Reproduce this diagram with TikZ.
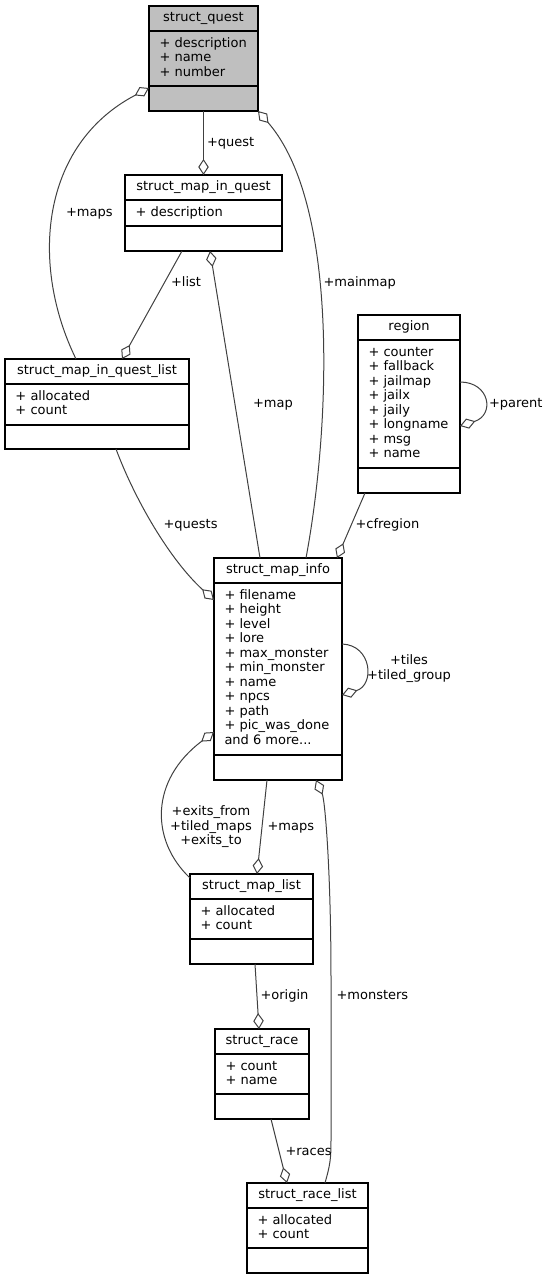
\documentclass[tikz,border=0pt]{standalone}
\usepackage{fontspec}
\setmainfont{DejaVu Sans}
\usetikzlibrary{arrows.meta}
\definecolor{edgecol}{HTML}{404040}
\definecolor{questfill}{HTML}{BFBFBF}
\tikzset{
 classbox/.style={draw=black, line width=1.1pt, inner sep=0pt, outer sep=0pt},
 classfill/.style={fill=white},
 boxline/.style={draw=black, line width=1.1pt},
 lbl/.style={inner sep=0pt, outer sep=0pt, font=\fontsize{13}{14.5}\selectfont, text=black},
 edge/.style={draw=edgecol, line width=1pt, -{Diamond[open, length=16pt, width=10.5pt]}},
}
% #1 name, #2 x1, #3 y1, #4 x2, #5 sep1, #6 sep2, #7 y2, #8 title, #9 attrs
\newcommand\umlbox[9]{%
 \node[classbox, classfill, minimum width={#4-#2}, minimum height={#7-#3}, anchor=north west] (#1) at (#2,#3) {};
 \draw[boxline] (#2,#5) -- (#4,#5);
 \draw[boxline] (#2,#6) -- (#4,#6);
 \node[lbl, anchor=base] (#1-t) at ({(#2+#4)/2},{#3+15.8}) {#8};
 \foreach \a [count=\i from 0] in {#9} {\node[lbl, anchor=base west] (#1-a\i) at ({#2+10.5},{#5+16+14.5*\i}) {\a};}
}
\begin{document}
\begin{tikzpicture}[x=1pt, y=-1pt]
\useasboundingbox (0,0) rectangle (547,1280);

\begin{scope}[classfill/.style={fill=questfill}]
\umlbox{quest}{149}{6}{258}{31}{86}{111}{struct\_quest}{+ description,+ name,+ number}
\end{scope}
\umlbox{miq}{125}{175}{282}{200}{226}{251}{struct\_map\_in\_quest}{+ description}
\umlbox{miql}{5}{359}{189}{384}{425}{449}{struct\_map\_in\_quest\_list}{+ allocated,+ count}
\umlbox{region}{358}{315}{460}{340}{468}{493}{region}{+ counter,+ fallback,+ jailmap,+ jailx,+ jaily,+ longname,+ msg,+ name}
\umlbox{info}{214}{558}{342}{583}{755}{780}{struct\_map\_info}{+ filename,+ height,+ level,+ lore,+ max\_monster,+ min\_monster,+ name,+ npcs,+ path,+ pic\_was\_done,and 6 more.{}.{}.}
\umlbox{mlist}{190}{874}{313}{899}{939}{964}{struct\_map\_list}{+ allocated,+ count}
\umlbox{race}{215}{1029}{309}{1054}{1094}{1119}{struct\_race}{+ count,+ name}
\umlbox{rlist}{247}{1183}{368}{1208}{1248}{1273}{struct\_race\_list}{+ allocated,+ count}

% edges
\draw[edge] (quest.south) -- (miq.north);
\draw[edge] ([xshift=71pt]miql.north west) .. controls (30,265) and (40,145) .. ([yshift=-82pt]quest.north west);
\draw[edge] ([xshift=57pt]miq.south west) -- ([xshift=117pt]miql.north west);
\draw[edge] ([xshift=92pt]info.north west) .. controls (330,430) and (340,205) .. (quest.south east);
\draw[edge] ([xshift=46pt]info.north west) -- ([xshift=85pt]miq.south west);
\draw[edge] ([xshift=111pt]miql.south west) .. controls (135,500) and (170,560) .. ([yshift=-42pt]info.north west);
\draw[edge] ([xshift=7pt]region.south west) -- ([xshift=123pt]info.north west);
\draw[edge] ([yshift=-67pt]region.north east) .. controls (490,382) and (495,415) .. ([yshift=-111pt]region.north east);
\draw[edge] ([yshift=-86pt]info.north east) .. controls (372,645) and (375,685) .. ([yshift=-137pt]info.north east);
\draw[edge] ([yshift=-4pt]mlist.north west) .. controls (150,840) and (150,780) .. ([yshift=-174pt]info.north west);
\draw[edge] ([xshift=53pt]info.south west) -- ([xshift=67pt]mlist.north west);
\draw[edge] ([xshift=78pt]rlist.north west) .. controls (330,1165) and (331,1160) .. (331,1140) -- (331,980) .. controls (331,870) and (325,800) .. ([xshift=102pt]info.south west);
\draw[edge] ([xshift=65pt]mlist.south west) -- ([xshift=44pt]race.north west);
\draw[edge] ([xshift=56pt]race.south west) -- ([xshift=40pt]rlist.north west);

% labels
\node[lbl, anchor=base west] (l-quest) at (207,146.5) {+quest};
\node[lbl, anchor=base west] (l-maps) at (66,216.5) {+maps};
\node[lbl, anchor=base west] (l-list) at (171,286.5) {+list};
\node[lbl, anchor=base west] (l-mainmap) at (323.5,286.5) {+mainmap};
\node[lbl, anchor=base west] (l-map) at (253,407.5) {+map};
\node[lbl, anchor=base west] (l-parent) at (489,407.5) {+parent};
\node[lbl, anchor=base west] (l-quests) at (163.5,528) {+quests};
\node[lbl, anchor=base west] (l-cfregion) at (355.5,528.5) {+cfregion};
\node[lbl, anchor=base] (l-tiles) at (409,664.5) {+tiles};
\node[lbl, anchor=base] (l-tiledgroup) at (409,679.5) {+tiled\_group};
\node[lbl, anchor=base] (l-exfrom) at (211,815.5) {+exits\_from};
\node[lbl, anchor=base] (l-tiledmaps) at (211,830) {+tiled\_maps};
\node[lbl, anchor=base] (l-exto) at (211,844.5) {+exits\_to};
\node[lbl, anchor=base west] (l-maps2) at (267.5,830.5) {+maps};
\node[lbl, anchor=base west] (l-monsters) at (336.5,999.5) {+monsters};
\node[lbl, anchor=base west] (l-origin) at (260.5,999.5) {+origin};
\node[lbl, anchor=base west] (l-races) at (285.5,1155) {+races};
\end{tikzpicture}
\end{document}
